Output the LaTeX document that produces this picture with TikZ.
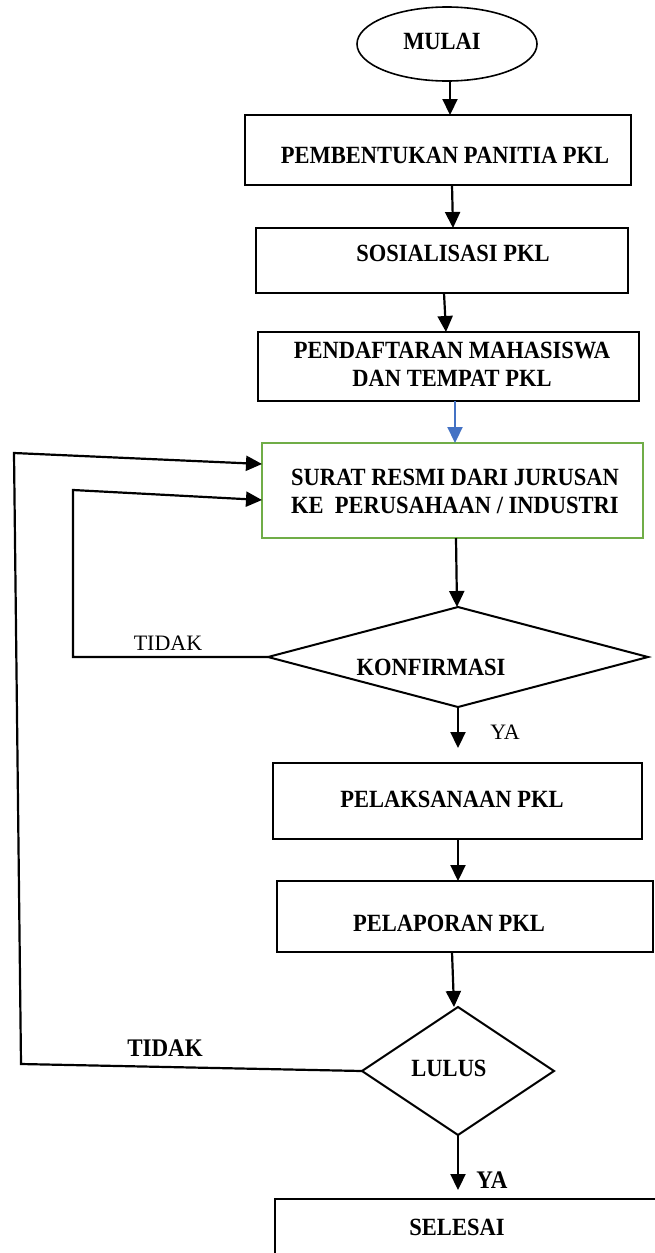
\documentclass[tikz,border=0pt]{standalone}
\usepackage{fontspec}
\usepackage{graphicx}
\setmainfont{Liberation Serif}
\usetikzlibrary{shapes.geometric,arrows.meta}
\definecolor{boxgreen}{HTML}{70AD47}
\definecolor{arrblue}{HTML}{4472C4}
\newcommand{\vst}[1]{\scalebox{1}[1.1]{#1}}
\newcommand{\vsttwo}[2]{\scalebox{1}[1.1]{\begin{tabular}{@{}c@{}}#1\\[-1pt]#2\end{tabular}}}
\tikzset{
  every node/.style={inner sep=0pt, outer sep=0pt},
  boxnode/.style={draw=black, line width=2pt, rectangle},
  greenbox/.style={draw=boxgreen, line width=2pt, rectangle},
  termnode/.style={draw=black, line width=1.6pt, ellipse},
  decnode/.style={draw=black, line width=2pt, diamond},
  txt/.style={font=\fontsize{22.5}{27}\selectfont\bfseries, align=center},
  lbl/.style={font=\fontsize{22}{27}\selectfont},
  lblb/.style={font=\fontsize{23}{27}\selectfont\bfseries},
  arr/.style={line width=2.2pt, -{Triangle[length=16pt,width=15pt]}},
}
\begin{document}
\begin{tikzpicture}[x=1pt,y=-1pt]
\useasboundingbox (0,0) rectangle (655,1253);
\clip (0,0) rectangle (655,1253);
\fill[white] (0,0) rectangle (655,1253);

% shapes
\node[termnode, minimum width=180pt, minimum height=74pt] (e0) at (447,44) {};
\node[txt] (t0) at (442,41) {\vst{MULAI}};

\node[boxnode, minimum width=386pt, minimum height=70pt] (b1) at (438,150) {};
\node[txt] (t1) at (445,155) {\vst{PEMBENTUKAN PANITIA PKL}};

\node[boxnode, minimum width=372pt, minimum height=65pt] (b2) at (442,260.5) {};
\node[txt] (t2) at (453,253) {\vst{SOSIALISASI PKL}};

\node[boxnode, minimum width=381pt, minimum height=69pt] (b3) at (448.5,366.5) {};
\node[txt] (t3) at (452,366.5) {\vsttwo{PENDAFTARAN MAHASISWA}{DAN TEMPAT PKL}};

\node[greenbox, minimum width=381pt, minimum height=95pt] (b4) at (452.5,490.5) {};
\node[txt] (t4) at (455,493.5) {\vsttwo{SURAT RESMI DARI JURUSAN}{KE\ \ PERUSAHAAN / INDUSTRI}};

\node[decnode, minimum width=380pt, minimum height=100pt] (d1) at (458,657) {};
\node[txt] (t5) at (431,667) {\vst{KONFIRMASI}};

\node[boxnode, minimum width=369pt, minimum height=76pt] (b5) at (457.5,801) {};
\node[txt] (t6) at (452,799) {\vst{PELAKSANAAN PKL}};

\node[boxnode, minimum width=376pt, minimum height=71pt] (b6) at (465,916.5) {};
\node[txt] (t7) at (449,923) {\vst{PELAPORAN PKL}};

\node[decnode, minimum width=192pt, minimum height=128pt] (d2) at (458,1071) {};
\node[txt] (t8) at (449,1068) {\vst{LULUS}};

\node[boxnode, minimum width=425pt, minimum height=110pt] (b7) at (487.5,1254) {};
\node[txt] (t9) at (457,1227) {\vst{SELESAI}};

% labels
\node[lbl] (l1) at (168,643) {TIDAK};
\node[lbl] (l2) at (505,732) {YA};
\node[lblb] (l3) at (165,1048) {\vst{TIDAK}};
\node[lblb] (l4) at (492,1180) {\vst{YA}};

% helper corners
\coordinate (k1) at (73,657);
\coordinate (k2) at (73,490);
\coordinate (m1) at (21,1064);
\coordinate (m2) at (14,453);

% connectors
\draw[arr] ([xshift=3pt]e0.south) -- ([xshift=12pt]b1.north);
\draw[arr] ([xshift=14pt]b1.south) -- ([xshift=11pt]b2.north);
\draw[arr] ([xshift=2pt]b2.south) -- ([xshift=-2.5pt]b3.north);
\draw[arr, draw=arrblue, fill=arrblue] ([xshift=6.5pt]b3.south) -- ([xshift=2.5pt]b4.north);
\draw[arr] ([xshift=3.5pt]b4.south) -- ([xshift=-1pt]d1.north);
\draw[arr, shorten >=15pt] (d1.south) -- (d1.south |- b5.north);
\draw[arr] ([xshift=0.5pt]b5.south) -- ([xshift=-7pt]b6.north);
\draw[arr] ([xshift=-13pt]b6.south) -- ([xshift=-4pt]d2.north);
\draw[arr, shorten >=9pt] (d2.south) -- (d2.south |- b7.north);

\draw[arr, line join=miter] (d1.west) -- (k1) -- (k2) -- ([yshift=-9.5pt]b4.west);
\draw[arr, line join=miter] (d2.west) -- (m1) -- (m2) -- ([yshift=26.5pt]b4.west);
\end{tikzpicture}
\end{document}
